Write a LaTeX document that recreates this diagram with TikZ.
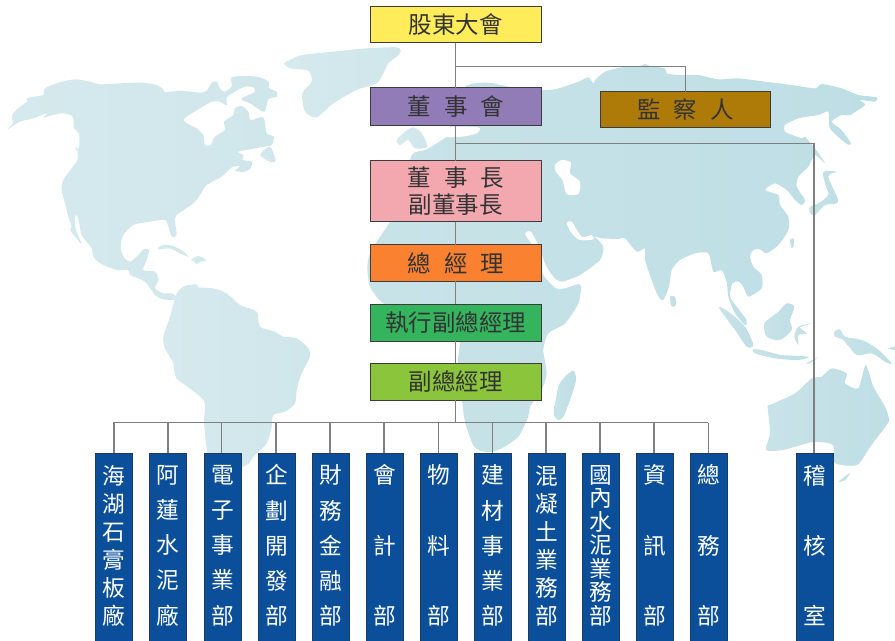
\documentclass[tikz,border=0pt]{standalone}
\usepackage{fontspec}
\setmainfont{Noto Sans CJK TC}
\lineskiplimit=-100pt
\definecolor{cline}{HTML}{7F7F7F}
\definecolor{cedge}{HTML}{3C3C3C}
\definecolor{ctext}{HTML}{333333}
\definecolor{cblue}{HTML}{0B4F9B}
\definecolor{cblueedge}{HTML}{1F3A5F}
\definecolor{landaL}{HTML}{D6EAEE}
\definecolor{landaR}{HTML}{CFE6EA}
\definecolor{landbL}{HTML}{C8E3E8}
\definecolor{landbR}{HTML}{BEDEE5}
\tikzset{
 office/.style={draw=cedge,line width=.75pt,inner sep=0pt,outer sep=0pt,minimum width=127.8pt,text=ctext,align=center,font=\fontsize{17.6}{20.3}\selectfont},
 unit/.style={draw=cblueedge,fill=cblue,line width=.75pt,inner sep=0pt,outer sep=0pt,minimum width=28pt,minimum height=146pt},
 unittext/.style={text=white,align=center,inner sep=0pt},
 link/.style={draw=cline,line width=.9pt},
 landw/.style={left color=landaL,right color=landaR,draw=none},
 lande/.style={left color=landbL,right color=landbR,draw=none},
 sea/.style={fill=white,draw=none}
}
\newcommand{\gp}{\hspace{9.8pt}}
% name, centre x, stem offset, line pitch (pt), text
\newcommand{\unitcol}[5]{%
 \node[unit] (#1) at (#2,550.8) {};
 \node[unittext,font=\fontsize{17}{#4}\selectfont] (#1t) at (#2,545.6) {#5};
 \draw[link] ([xshift=#3]#1.north |- bus) -- ([xshift=#3]#1.north);
}
\begin{document}
\begin{tikzpicture}[x=.75pt,y=-.75pt]
\useasboundingbox (0,0) rectangle (895,640);
% ---------- map, west part (coordinates of 3x crop)
\begin{scope}[shift={(0,40)},x=.25pt,y=-.25pt]
\shade[landw] plot[smooth cycle,tension=.45] coordinates {(22,268)(38,250)(36,225)(60,200)(82,185)(80,175)(115,168)(130,165)(135,145)(175,128)(225,118)(270,125)(300,133)(360,130)(425,128)(470,135)(490,148)(495,157)(540,152)(600,158)(620,152)(635,128)(650,125)(660,145)(672,155)(695,140)(695,112)(740,108)(780,112)(805,125)(808,145)(830,155)(830,170)(805,178)(795,215)(780,210)(750,190)(725,180)(730,172)(765,155)(760,142)(735,140)(705,155)(680,172)(680,195)(660,185)(635,185)(600,205)(550,240)(590,265)(610,285)(615,315)(632,315)(645,290)(675,270)(672,245)(700,225)(705,205)(725,198)(745,215)(752,240)(790,232)(800,280)(822,290)(815,315)(805,318)(715,335)(730,345)(728,360)(755,365)(752,385)(735,395)(705,393)(720,378)(695,382)(665,410)(620,435)(600,465)(580,490)(530,525)(525,545)(530,585)(515,590)(505,560)(495,540)(450,545)(400,555)(370,585)(362,620)(370,650)(390,665)(415,645)(430,628)(447,630)(440,660)(430,690)(465,695)(475,720)(465,745)(490,760)(515,760)(528,770)(522,780)(490,778)(465,765)(435,725)(390,705)(385,690)(350,690)(300,670)(280,650)(275,625)(245,585)(238,550)(230,525)(224,535)(228,570)(245,612)(225,590)(210,570)(215,560)(205,530)(195,490)(185,450)(190,420)(215,385)(232,360)(232,335)(225,320)(237,325)(237,280)(222,265)(218,230)(190,220)(160,225)(130,233)(140,220)(100,235)(60,245)};
\shade[landw] plot[smooth cycle,tension=.45] coordinates {(780,345)(810,320)(827,362)(810,365)};
\shade[landw] plot[smooth cycle,tension=.45] coordinates {(852,70)(870,60)(905,45)(1000,35)(1100,25)(1190,22)(1202,35)(1190,50)(1165,70)(1150,100)(1130,130)(1070,150)(1000,190)(950,232)(915,215)(907,160)(935,125)(925,92)(870,85)};
\shade[landw] plot[smooth cycle,tension=.45] coordinates {(473,625)(490,615)(520,618)(550,635)(565,650)(540,640)(510,625)(480,628)};
\shade[landw] plot[smooth cycle,tension=.45] coordinates {(572,660)(595,648)(620,662)(600,665)(590,672)(580,663)};
\shade[landw] plot[smooth cycle,tension=.45] coordinates {(530,760)(555,738)(590,733)(595,742)(640,745)(680,760)(720,795)(770,815)(780,860)(825,875)(850,890)(890,895)(925,925)(930,950)(905,1000)(890,1050)(885,1090)(855,1115)(820,1125)(815,1160)(800,1210)(760,1250)(740,1275)(660,1300)(625,1250)(612,1150)(610,1080)(530,1015)(520,970)(495,925)(490,890)(510,830)};
\shade[landw] plot[smooth cycle,tension=.45] coordinates {(1190,300)(1215,275)(1240,262)(1265,280)(1282,320)(1245,325)(1225,300)(1200,315)};
\end{scope}
% ---------- map, east part
\begin{scope}[shift={(445,40)},x=.25pt,y=-.25pt]
\shade[lande] plot[smooth cycle,tension=.4] coordinates {(-100,345)(-55,328)(5,290)(15,265)(20,180)(69,135)(130,128)(200,142)(260,150)(330,148)(400,125)(430,112)(445,130)(452,118)(480,95)(530,82)(585,78)(600,72)(615,78)(660,85)(665,100)(700,105)(760,105)(820,118)(880,115)(960,125)(1040,135)(1110,145)(1130,132)(1190,145)(1240,165)(1295,172)(1290,185)(1245,180)(1260,195)(1215,225)(1190,225)(1160,245)(1190,270)(1218,310)(1205,312)(1155,265)(1150,215)(1120,225)(1060,235)(1020,255)(1020,275)(1070,295)(1080,290)(1110,325)(1140,370)(1110,345)(1090,380)(1060,410)(1055,440)(1080,480)(1070,495)(1050,480)(1025,450)(990,430)(960,450)(1000,465)(1005,495)(1030,530)(1030,570)(1000,615)(965,640)(945,628)(925,630)(915,650)(925,680)(950,705)(950,745)(910,770)(895,740)(880,725)(862,730)(855,770)(875,800)(905,840)(900,855)(870,820)(850,770)(845,725)(830,690)(805,695)(790,640)(750,640)(705,660)(680,690)(672,740)(655,780)(640,770)(620,720)(600,660)(600,625)(575,635)(540,595)(520,597)(470,595)(450,590)(475,620)(465,660)(405,705)(350,725)(325,710)(300,670)(285,625)(258,575)(240,582)(270,630)(295,705)(340,748)(405,733)(400,790)(360,850)(310,880)(295,930)(305,1000)(290,1050)(255,1100)(250,1130)(220,1190)(170,1225)(135,1236)(105,1232)(84,1215)(60,1146)(51,1080)(39,966)(45,905)(30,850)(-100,815)(-185,790)(-225,740)(-233,680)(-225,640)(-195,590)(-165,545)(-120,450)};
\fill[sea] plot[smooth cycle,tension=.45] coordinates {(0,262)(100,262)(95,280)(50,290)(0,290)};
\fill[sea] plot[smooth cycle,tension=.45] coordinates {(330,375)(350,360)(378,368)(375,400)(405,425)(400,462)(365,462)(352,420)(332,395)};
\fill[sea] plot[smooth cycle,tension=.45] coordinates {(365,550)(380,545)(410,590)(440,585)(445,598)(405,600)(380,580)};
\fill[sea] plot[smooth cycle,tension=.45] coordinates {(935,660)(955,650)(950,665)};
\shade[lande] plot[smooth cycle,tension=.45] coordinates {(1095,500)(1120,490)(1150,465)(1140,430)(1135,395)(1175,395)(1150,410)(1180,485)(1140,495)(1110,525)(1095,520)};
\shade[lande] plot[smooth cycle,tension=.45] coordinates {(1035,600)(1045,595)(1048,615)(1040,625)};
\shade[lande] plot[smooth cycle,tension=.45] coordinates {(675,770)(690,770)(692,795)(680,800)};
\shade[lande] plot[smooth cycle,tension=.45] coordinates {(385,992)(393,1020)(375,1080)(355,1130)(340,1140)(327,1120)(340,1040)(360,1010)};
\shade[lande] plot[smooth cycle,tension=.45] coordinates {(958,850)(1000,815)(1025,790)(1048,800)(1035,840)(1040,870)(1005,900)(965,890)};
\shade[lande] plot[smooth cycle,tension=.45] coordinates {(1048,890)(1060,860)(1100,850)(1065,862)(1085,880)(1060,885)(1060,915)};
\shade[lande] plot[smooth cycle,tension=.45] coordinates {(822,803)(850,815)(900,860)(925,915)(905,920)(870,870)};
\shade[lande] plot[smooth cycle,tension=.45] coordinates {(925,928)(950,930)(1010,945)(1090,950)(1060,960)(990,955)(930,940)};
\shade[lande] plot[smooth cycle,tension=.45] coordinates {(1085,970)(1118,952)(1095,970)};
\shade[lande] plot[smooth cycle,tension=.45] coordinates {(1168,875)(1185,868)(1200,890)(1250,900)(1295,925)(1340,970)(1320,965)(1280,940)(1235,945)(1195,900)(1170,890)};
\shade[lande] plot[smooth cycle,tension=.45] coordinates {(1330,925)(1350,920)(1350,930)};
\shade[lande] plot[smooth cycle,tension=.4] coordinates {(968,1100)(975,1095)(1050,1060)(1100,1015)(1130,1010)(1160,985)(1205,1000)(1200,1030)(1240,1045)(1262,975)(1285,1040)(1320,1100)(1332,1135)(1329,1149)(1275,1221)(1236,1275)(1170,1269)(1164,1215)(1104,1206)(1014,1230)(963,1230)(975,1180)};
\shade[lande] plot[smooth cycle,tension=.45] coordinates {(1179,1326)(1215,1299)(1200,1320)};
\end{scope}
% ---------- offices
\node[office,fill={rgb,255:red,255;green,236;blue,90},minimum height=27.4pt] (ga) at (455.85,24.3) {股東大會};
\node[office,fill={rgb,255:red,145;green,124;blue,183},minimum height=28.7pt] (board) at (455.85,106.8) {董\gp 事\gp 會};
\node[office,fill={rgb,255:red,175;green,123;blue,8},minimum height=27.2pt] (sup) at (685.5,109.8) {監\gp 察\gp 人};
\node[office,fill={rgb,255:red,243;green,168;blue,176},minimum height=45.75pt] (chair) at (455.85,191.2) {董\gp 事\gp 長\\副董事長};
\node[office,fill={rgb,255:red,249;green,129;blue,48},minimum height=27.4pt] (gm) at (455.85,263) {總\gp 經\gp 理};
\node[office,fill={rgb,255:red,53;green,180;blue,94},minimum height=27.7pt] (evp) at (455.85,322.7) {執行副總經理};
\node[office,fill={rgb,255:red,138;green,197;blue,60},minimum height=27.5pt] (vp) at (455.85,381.7) {副總經理};
% ---------- trunk
\coordinate (j1) at (ga.south |- 0,66.7);
\coordinate (j2) at (board.south |- 0,143.7);
\coordinate (bus) at (vp.south |- 0,422.7);
\draw[link] (ga.south) -- (board.north);
\draw[link] (board.south) -- (chair.north);
\draw[link] (chair.south) -- (gm.north);
\draw[link] (gm.south) -- (evp.north);
\draw[link] (evp.south) -- (vp.north);
\draw[link] (vp.south) -- (bus);
\draw[link] (j1) -| (sup.north);
% ---------- units
\unitcol{u1}{114}{0pt}{21}{海\\湖\\石\\膏\\板\\廠}
\unitcol{u2}{168}{0pt}{26.4}{阿\\蓮\\水\\泥\\廠}
\unitcol{u3}{223.3}{-1.2pt}{26.4}{電\\子\\事\\業\\部}
\unitcol{u4}{277.3}{-1pt}{26.4}{企\\劃\\開\\發\\部}
\unitcol{u5}{331.3}{-1pt}{26.4}{財\\務\\金\\融\\部}
\unitcol{u6}{385.2}{-.9pt}{52.8}{會\\計\\部}
\unitcol{u7}{439.3}{-.8pt}{52.8}{物\\料\\部}
\unitcol{u8}{493}{-.6pt}{26.4}{建\\材\\事\\業\\部}
\unitcol{u9}{547}{-.7pt}{21}{混\\凝\\土\\業\\務\\部}
\unitcol{u10}{601}{-.7pt}{17.6}{國\\內\\水\\泥\\業\\務\\部}
\unitcol{u11}{655}{-.7pt}{52.8}{資\\訊\\部}
\unitcol{u12}{709}{-.6pt}{52.8}{總\\務\\部}
\node[unit] (u13) at (815,550.8) {};
\node[unittext,font=\fontsize{17}{52.8}\selectfont] (u13t) at (815,545.6) {稽\\核\\室};
\draw[link] ([xshift=-.75pt]u1.north |- bus) -- ([xshift=-.5pt]u12.north |- bus);
\draw[link] (j2) -| ([xshift=-.75pt]u13.north);
\end{tikzpicture}
\end{document}
